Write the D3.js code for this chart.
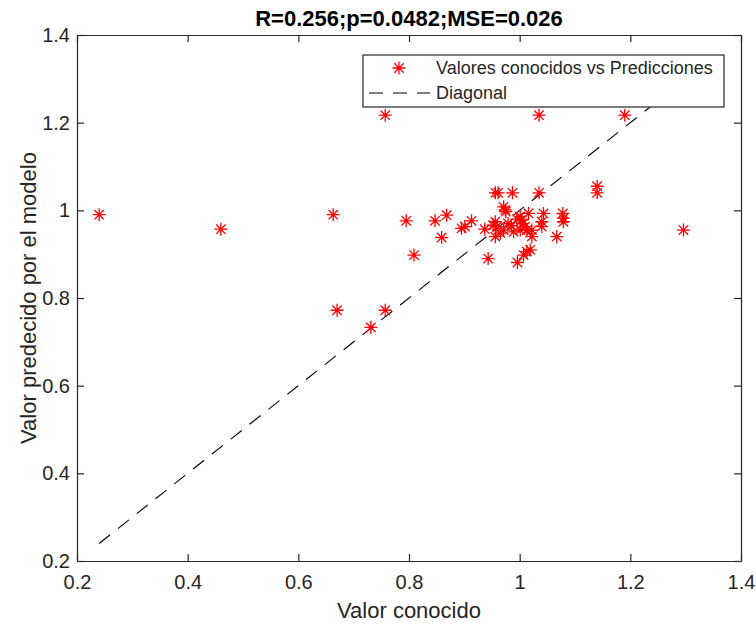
<!DOCTYPE html>
<html>
<head>
<meta charset="utf-8">
<script src="https://cdn.jsdelivr.net/npm/d3@7"></script>
<style>
  body { margin: 0; background: #fff; }
  svg text { font-family: "Liberation Sans", Arial, Helvetica, sans-serif; }
</style>
</head>
<body>
<svg id="chart" width="756" height="626"></svg>
<script>
// known value (x) vs model prediction (y)
const knownValues = [
    0.240, 0.460, 0.663, 0.670, 0.731, 0.757, 0.757, 0.795, 0.809, 0.847,
    0.859, 0.868, 0.895, 0.901, 0.913, 0.937, 0.943, 0.952, 0.956, 0.961,
    0.956, 0.959, 0.956, 0.965, 0.971, 0.971, 0.974, 0.975, 0.987, 0.979,
    0.989, 0.995, 0.996, 1.001, 1.004, 1.001, 1.007, 1.013, 1.019, 1.010,
    1.013, 1.022, 1.022, 1.016, 1.035, 1.035, 1.040, 1.040, 1.043, 1.067,
    1.078, 1.079, 1.079, 1.140, 1.140, 1.190, 1.296, 0.985, 1.005
];
const predictedValues = [
    0.990, 0.957, 0.990, 0.772, 0.733, 1.217, 0.772, 0.976, 0.898, 0.976,
    0.938, 0.989, 0.959, 0.963, 0.976, 0.957, 0.890, 0.966, 1.040, 1.040,
    0.974, 0.963, 0.940, 0.948, 0.955, 1.008, 1.001, 0.997, 1.040, 0.970,
    0.951, 0.980, 0.881, 0.986, 0.978, 0.955, 0.898, 0.906, 0.910, 0.963,
    0.955, 0.955, 0.940, 0.993, 1.040, 1.217, 0.974, 0.963, 0.993, 0.940,
    0.993, 0.982, 0.974, 1.055, 1.040, 1.217, 0.955, 0.965, 0.970
];

const tickValues = [0.2, 0.4, 0.6, 0.8, 1, 1.2, 1.4];
const tickLabels = ["0.2", "0.4", "0.6", "0.8", "1", "1.2", "1.4"];

const titleText = "R=0.256;p=0.0482;MSE=0.026";
const xLabel = "Valor conocido";
const yLabel = "Valor predecido por el modelo";
const legendLabels = ["Valores conocidos vs Predicciones", "Diagonal"];

const axisColor = "#262626";

const svg = d3.select("#chart");
const margin = { top: 35, right: 15, bottom: 65, left: 77 };
const width = 756, height = 626;

const x = d3.scaleLinear().domain([0.2, 1.4]).range([margin.left, width - margin.right]);
const y = d3.scaleLinear().domain([0.2, 1.4]).range([height - margin.bottom, margin.top]);

const fmt = d => tickLabels[tickValues.indexOf(d)];

// matlab style asterisk: plus + cross
const asterisk = {
    draw(ctx, size) {
        const r = Math.sqrt(size) / 2;
        const q = r * 0.72;
        ctx.moveTo(-r, 0); ctx.lineTo(r, 0);
        ctx.moveTo(0, -r); ctx.lineTo(0, r);
        ctx.moveTo(-q, -q); ctx.lineTo(q, q);
        ctx.moveTo(-q, q); ctx.lineTo(q, -q);
    }
};
const markerPath = d3.symbol().type(asterisk).size(170)();

// axes, ticks pointing inward on all four sides
function styleAxis(g) {
    g.selectAll("path.domain").attr("stroke", axisColor).attr("stroke-width", 1.2);
    g.selectAll(".tick line").attr("stroke", axisColor).attr("stroke-width", 1.2);
    g.selectAll(".tick text").attr("fill", axisColor).attr("font-size", 20)
        .attr("font-family", "Liberation Sans, Arial, sans-serif");
}

svg.append("g")
    .attr("transform", `translate(0,${y(0.2)})`)
    .call(d3.axisBottom(x).tickValues(tickValues).tickFormat(fmt).tickSizeInner(-7).tickSizeOuter(0).tickPadding(14))
    .call(styleAxis);

svg.append("g")
    .attr("transform", `translate(${x(0.2)},0)`)
    .call(d3.axisLeft(y).tickValues(tickValues).tickFormat(fmt).tickSizeInner(-7).tickSizeOuter(0).tickPadding(7))
    .call(styleAxis);

svg.append("g")
    .attr("transform", `translate(0,${y(1.4)})`)
    .call(d3.axisTop(x).tickValues(tickValues).tickFormat("").tickSizeInner(-7).tickSizeOuter(0))
    .call(styleAxis);

svg.append("g")
    .attr("transform", `translate(${x(1.4)},0)`)
    .call(d3.axisRight(y).tickValues(tickValues).tickFormat("").tickSizeInner(-7).tickSizeOuter(0))
    .call(styleAxis);

// diagonal reference line
const diagExtent = d3.extent(knownValues);
const line = d3.line().x(d => x(d)).y(d => y(d));
svg.append("path")
    .datum(diagExtent)
    .attr("d", line)
    .attr("fill", "none")
    .attr("stroke", "#000")
    .attr("stroke-width", 1.1)
    .attr("stroke-dasharray", "14,10");

// points
svg.append("g")
    .selectAll("path")
    .data(knownValues.map((v, i) => [v, predictedValues[i]]))
    .join("path")
    .attr("transform", d => `translate(${x(d[0])},${y(d[1])})`)
    .attr("d", markerPath)
    .attr("fill", "none")
    .attr("stroke", "#ff0000")
    .attr("stroke-width", 1.3);

// legend
const legend = svg.append("g").attr("transform", "translate(363,55)");
legend.append("rect")
    .attr("width", 361).attr("height", 52)
    .attr("fill", "#fff")
    .attr("stroke", axisColor)
    .attr("stroke-width", 1.2);
legend.append("path")
    .attr("transform", "translate(36,13)")
    .attr("d", markerPath)
    .attr("fill", "none")
    .attr("stroke", "#ff0000")
    .attr("stroke-width", 1.3);
legend.append("line")
    .attr("x1", 6).attr("x2", 67).attr("y1", 38).attr("y2", 38)
    .attr("stroke", "#000").attr("stroke-width", 1.1)
    .attr("stroke-dasharray", "14,10");
legend.selectAll("text.lab")
    .data(legendLabels)
    .join("text")
    .attr("class", "lab")
    .attr("x", 73)
    .attr("y", (d, i) => 13 + i * 25)
    .attr("dy", "0.35em")
    .attr("font-size", 18)
    .attr("fill", axisColor)
    .text(d => d);

// title and axis labels
svg.append("text")
    .attr("x", (x(0.2) + x(1.4)) / 2)
    .attr("y", 26)
    .attr("text-anchor", "middle")
    .attr("font-size", 22)
    .attr("font-weight", "bold")
    .attr("fill", "#000")
    .text(titleText);

svg.append("text")
    .attr("x", (x(0.2) + x(1.4)) / 2)
    .attr("y", 618)
    .attr("text-anchor", "middle")
    .attr("font-size", 22)
    .attr("fill", axisColor)
    .text(xLabel);

svg.append("text")
    .attr("transform", `translate(36,${(y(0.2) + y(1.4)) / 2}) rotate(-90)`)
    .attr("text-anchor", "middle")
    .attr("font-size", 22)
    .attr("fill", axisColor)
    .text(yLabel);
</script>
</body>
</html>
